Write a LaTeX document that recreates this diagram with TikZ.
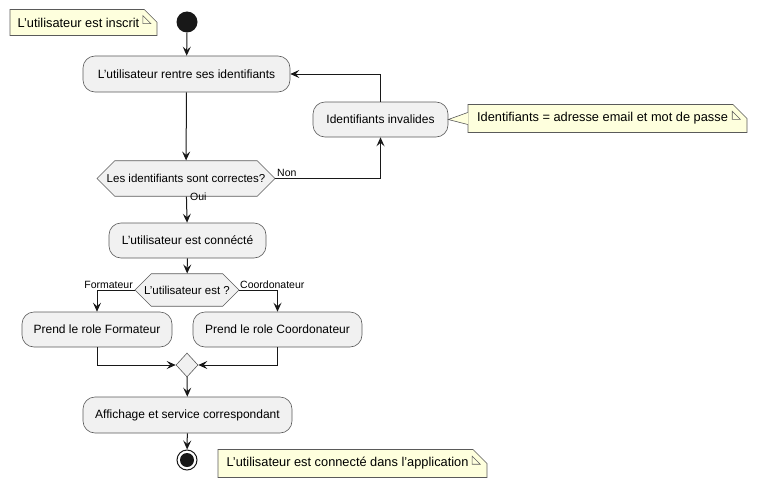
\documentclass[tikz,border=0pt]{standalone}
\usepackage{fontspec}
\setmainfont{Liberation Sans}
\usetikzlibrary{arrows.meta,shapes.misc,shapes.geometric,calc}
\definecolor{boxfill}{HTML}{F1F1F1}
\definecolor{boxline}{HTML}{5A5A5A}
\definecolor{notefill}{HTML}{FEFFDD}
\definecolor{lnk}{HTML}{181818}
\tikzset{
  actbox/.style={draw=boxline, fill=boxfill, line width=0.6pt, rounded corners=12pt,
    inner sep=0pt, font=\fontsize{12}{14}\selectfont},
  hexa/.style={chamfered rectangle, chamfered rectangle xsep=8pt, draw=boxline, fill=boxfill,
    line width=0.6pt, inner sep=0pt, font=\fontsize{11.5}{13}\selectfont},
  notebox/.style={draw=boxline, fill=notefill, line width=0.6pt, inner sep=0pt,
    chamfered rectangle, chamfered rectangle corners=north east, chamfered rectangle sep=8pt,
    font=\fontsize{12.8}{15}\selectfont},
  fold/.style={draw=boxline, fill=notefill, line width=0.6pt},
  lbl/.style={inner sep=0pt, font=\fontsize{10.5}{12}\selectfont},
  flow/.style={draw=lnk, line width=1pt, -{Stealth[length=9pt,width=8pt,inset=3.5pt]}}
}
\begin{document}
\begin{tikzpicture}[x=1pt,y=-1pt]
\useasboundingbox (0,0) rectangle (757,487);
% start
\node[circle, fill=lnk, minimum size=21pt, inner sep=0pt] (start) at (187,22) {};
\node[notebox, minimum width=147pt, minimum height=26pt] (n1) at (83.5,22.5) {L'utilisateur est inscrit\hspace*{10pt}};
% boxes
\node[actbox, minimum width=207pt, minimum height=36pt] (b1) at (186.5,74) {L'utilisateur rentre ses identifiants};
\node[actbox, minimum width=135pt, minimum height=35pt] (b2) at (380.5,119.5) {Identifiants invalides};
\node[notebox, minimum width=279pt, minimum height=27pt] (n2) at (607.5,118.5) {Identifiants = adresse email et mot de passe\hspace*{10pt}};
\node[hexa, chamfered rectangle ysep=13.5pt, minimum width=178pt, minimum height=27pt] (d1) at (186,178.5) {Les identifiants sont correctes?};
\node[lbl, anchor=south west] (non) at (277,177) {Non};
\node[lbl, anchor=north west] (oui) at (190,193) {Oui};
\node[actbox, minimum width=157pt, minimum height=35pt] (b3) at (187.5,240.5) {L'utilisateur est connécté};
\node[hexa, chamfered rectangle ysep=12pt, minimum width=104pt, minimum height=24pt] (d2) at (187,290) {L'utilisateur est ?};
\node[lbl, anchor=south east] (fmt) at (133,289) {Formateur};
\node[lbl, anchor=south west] (crd) at (240,289) {Coordonateur};
\node[actbox, minimum width=150pt, minimum height=35pt] (b4) at (97,329.5) {Prend le role Formateur};
\node[actbox, minimum width=169pt, minimum height=35pt] (b5) at (277.5,329.5) {Prend le role Coordonateur};
\node[diamond, draw=boxline, fill=boxfill, line width=0.6pt, inner sep=0pt, minimum width=22pt, minimum height=24pt] (m) at (187,365) {};
\node[actbox, minimum width=209pt, minimum height=36pt] (b6) at (187.5,415) {Affichage et service correspondant};
\node[circle, draw=lnk, line width=1pt, fill=white, minimum size=20pt, inner sep=0pt] (end) at (187,460) {};
\node[circle, fill=lnk, minimum size=14pt, inner sep=0pt] (endin) at (end.center) {};
\node[notebox, minimum width=269pt, minimum height=27pt] (n3) at (352.5,463.5) {L'utilisateur est connecté dans l'application\hspace*{10pt}};
% note folds
\foreach \n in {n1,n2,n3}
  \draw[fold] ($(\n.north east)+(-8,0)$) -- ++(0,8) -- ++(8,0) -- cycle;
% pointer of note 2
\fill[notefill] ($(n2.west)+(0.6,-6)$) -- (b2.east) -- ($(n2.west)+(0.6,6)$) -- cycle;
\draw[boxline, line width=0.6pt] ($(n2.west)+(0,-6)$) -- (b2.east) -- ($(n2.west)+(0,6)$);
% connectors
\path[flow] (start) -- (b1);
\path[flow] (b1) -- (d1);
\path[flow] (d1.east) -| (b2.south);
\path[flow] (b2.north) |- (b1.east);
\path[flow] (d1) -- (b3);
\path[flow] (b3) -- (d2);
\path[flow] (d2.west) -| (b4.north);
\path[flow] (d2.east) -| (b5.north);
\path[flow] (b4.south) |- (m.west);
\path[flow] (b5.south) |- (m.east);
\path[flow] (m) -- (b6);
\path[flow] (b6) -- (end);
\end{tikzpicture}
\end{document}
